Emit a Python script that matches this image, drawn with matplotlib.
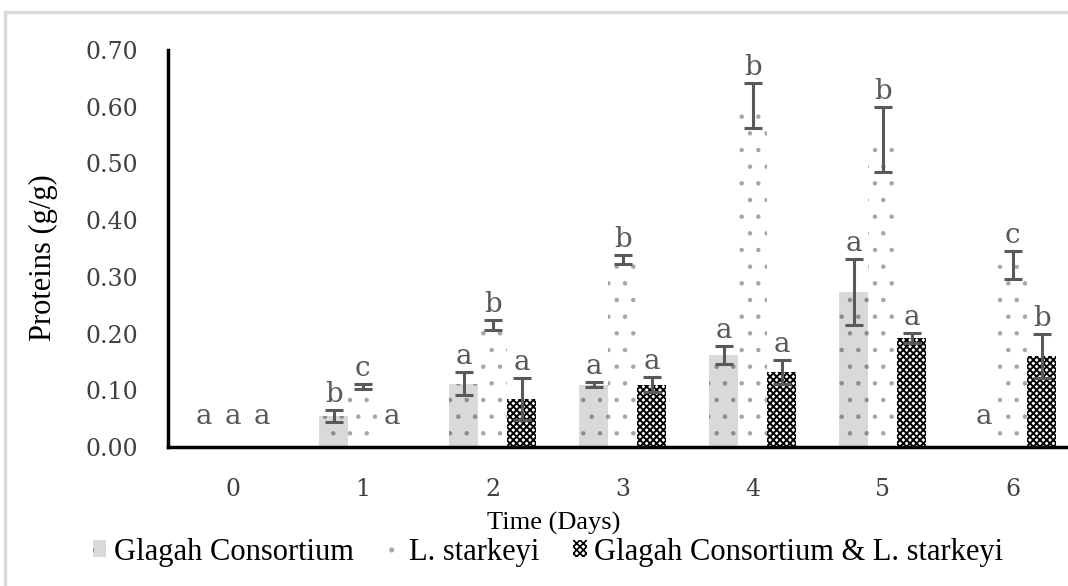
import matplotlib.pyplot as plt
import matplotlib.patches as mpatches
import numpy as np

plt.rcParams['font.family'] = ['Liberation Serif', 'DejaVu Serif']
plt.rcParams['hatch.linewidth'] = 1.2

days = ['0', '1', '2', '3', '4', '5', '6']
series = ['Glagah Consortium', 'L. starkeyi', 'Glagah Consortium & L. starkeyi']

glagah = [0.0, 0.055, 0.112, 0.110, 0.162, 0.273, 0.0]
glagah_err = [0.0, 0.010, 0.021, 0.004, 0.016, 0.058, 0.0]
starkeyi = [0.0, 0.107, 0.215, 0.330, 0.602, 0.542, 0.321]
starkeyi_err = [0.0, 0.004, 0.009, 0.008, 0.040, 0.058, 0.025]
combo = [0.0, 0.0, 0.085, 0.110, 0.133, 0.192, 0.160]
combo_err = [0.0, 0.0, 0.037, 0.013, 0.021, 0.009, 0.039]

glagah_lbl = ['a', 'b', 'a', 'a', 'a', 'a', 'a']
starkeyi_lbl = ['a', 'c', 'b', 'b', 'b', 'b', 'c']
combo_lbl = ['a', 'a', 'a', 'a', 'a', 'a', 'b']

fig = plt.figure(figsize=(10.68, 5.86), dpi=100)
ax = fig.add_axes([0.157, 0.237, 0.852, 0.678])

# light frame around the chart area
fig.patches.append(mpatches.Rectangle((0.005, -0.05), 1.2, 1.03, transform=fig.transFigure,
                                      fill=False, edgecolor='#d9d9d9', lw=2.5))

x = np.arange(len(days))
w = 0.223
styles = [
    dict(facecolor='#d9d9d9', edgecolor='#8c8c8c', hatch='.'),
    dict(facecolor='white', edgecolor='#a6a6a6', hatch='.'),
    dict(facecolor='white', edgecolor='black', hatch='xxxxx'),
]
hatch_lw = [0.8, 0.8, 1.4]
vals = [glagah, starkeyi, combo]
errs = [glagah_err, starkeyi_err, combo_err]
lbls = [glagah_lbl, starkeyi_lbl, combo_lbl]

handles = []
for i in range(3):
    pos = x + (i - 1) * w
    b = ax.bar(pos, vals[i], w, linewidth=0, label=series[i], **styles[i])
    for p in b.patches:
        if hasattr(p, 'set_hatch_linewidth'):
            p.set_hatch_linewidth(hatch_lw[i])
    handles.append(b)
    v = np.array(vals[i])
    e = np.array(errs[i])
    has = v > 0
    ax.errorbar(pos[has], v[has], yerr=e[has], fmt='none', ecolor='#595959',
                elinewidth=2.2, capsize=6.5, capthick=2.2, zorder=3)
    for p, vv, ee, t in zip(pos, v, e, lbls[i]):
        top = max(vv + ee + 0.014, 0.04)
        ax.text(p, top, t, ha='center', va='baseline', fontsize=20,
                family='DejaVu Serif', color='#595959')

ax.set_xlim(-0.5, 6.5)
ax.set_ylim(0, 0.70)
ax.set_xticks(x)
ax.set_xticklabels(days)
ticks = np.arange(0, 0.71, 0.1)
ax.set_yticks(ticks)
ax.set_yticklabels(['%.2f' % t for t in ticks])
for lab in ax.get_xticklabels() + ax.get_yticklabels():
    lab.set_family('DejaVu Serif')
    lab.set_fontsize(17)
    lab.set_color('#404040')
ax.tick_params(axis='x', length=0, pad=22)
ax.tick_params(axis='y', length=0, pad=21)
for s in ['top', 'right']:
    ax.spines[s].set_visible(False)
ax.spines['left'].set_linewidth(2.5)
ax.spines['bottom'].set_linewidth(2.5)

fig.text(0.041, 0.56, 'Proteins (g/g)', rotation=90, ha='center', va='center', fontsize=22)
fig.text(0.518, 0.1075, 'Time (Days)', ha='center', va='center', fontsize=19)

fig.legend(handles=handles, loc='center', bbox_to_anchor=(0.513, 0.058), ncol=3, frameon=False,
           fontsize=22, handlelength=0.45, handleheight=0.45, handletextpad=0.25, columnspacing=1.1)

fig.savefig('out.png', dpi=100)
